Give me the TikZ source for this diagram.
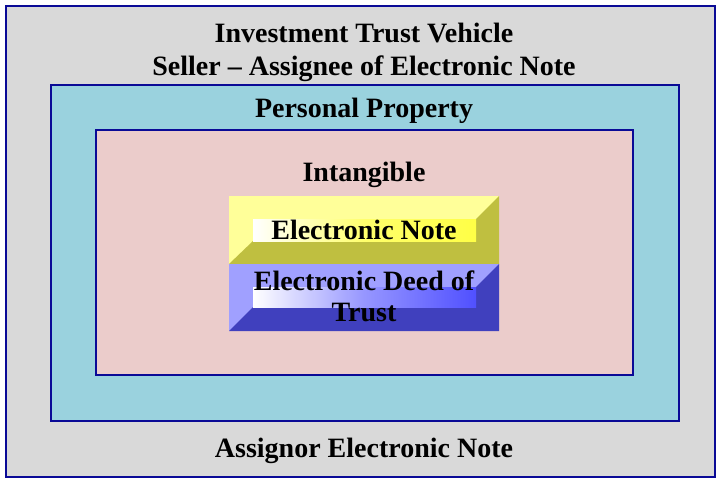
\documentclass[tikz,border=0pt]{standalone}
\usepackage{fontspec}
\setmainfont{Liberation Serif}
\usepackage{xcolor}
\usepackage{tikz}
\usetikzlibrary{calc}
\definecolor{boxline}{RGB}{10,10,150}
\definecolor{outerfill}{RGB}{217,217,217}
\definecolor{propfill}{RGB}{154,210,222}
\definecolor{intfill}{RGB}{235,204,203}
\definecolor{noteLight}{RGB}{255,255,153}
\definecolor{noteDark}{RGB}{191,191,64}
\definecolor{noteFace}{RGB}{255,255,70}
\definecolor{deedLight}{RGB}{160,160,255}
\definecolor{deedDark}{RGB}{64,64,190}
\definecolor{deedFace}{RGB}{80,80,255}
\tikzset{
 frame/.style={draw=boxline, line width=1.6pt},
 label/.style={anchor=base, font=\fontsize{28}{33}\selectfont\bfseries, inner sep=0pt},
}

\begin{document}
\begin{tikzpicture}[x=1pt,y=-1pt]
\useasboundingbox (0,0) rectangle (717,479);
% nested frames
\draw[frame, fill=outerfill] (6,6) rectangle (715,477);
\draw[frame, fill=propfill] (51,85) rectangle (679,421);
\draw[frame, fill=intfill] (96,130) rectangle (633,375);
% titles
\node[label] (vehicle) at (364,42) {Investment Trust Vehicle};
\node[label] (seller) at (364,75) {Seller -- Assignee of Electronic Note};
\node[label] (property) at (364,117) {Personal Property};
\node[label] (intangible) at (364,181) {Intangible};
\node[label] (assignor) at (364,457) {Assignor Electronic Note};
% bevelled note
\fill[noteLight] (229,196) rectangle (499,264);
\fill[noteDark] (499,196) -- (476,219) -- (476,241) -- (253,241) -- (229,264) -- (499,264) -- cycle;
\shade[left color=white, right color=noteFace, middle color=noteFace!80!white] (253,219) rectangle (476,241);
% bevelled deed
\fill[deedLight] (229,264) rectangle (499,331);
\fill[deedDark] (499,264) -- (476,287) -- (476,307) -- (253,307) -- (229,331) -- (499,331) -- cycle;
\shade[left color=white, right color=deedFace, middle color=deedFace!60!white] (253,287) rectangle (476,307);
\node[label] (note) at (364,239) {Electronic Note};
\node[label] (deed) at (364,290) {Electronic Deed of};
\node[label] (trust) at (364,321) {Trust};
\end{tikzpicture}
\end{document}
